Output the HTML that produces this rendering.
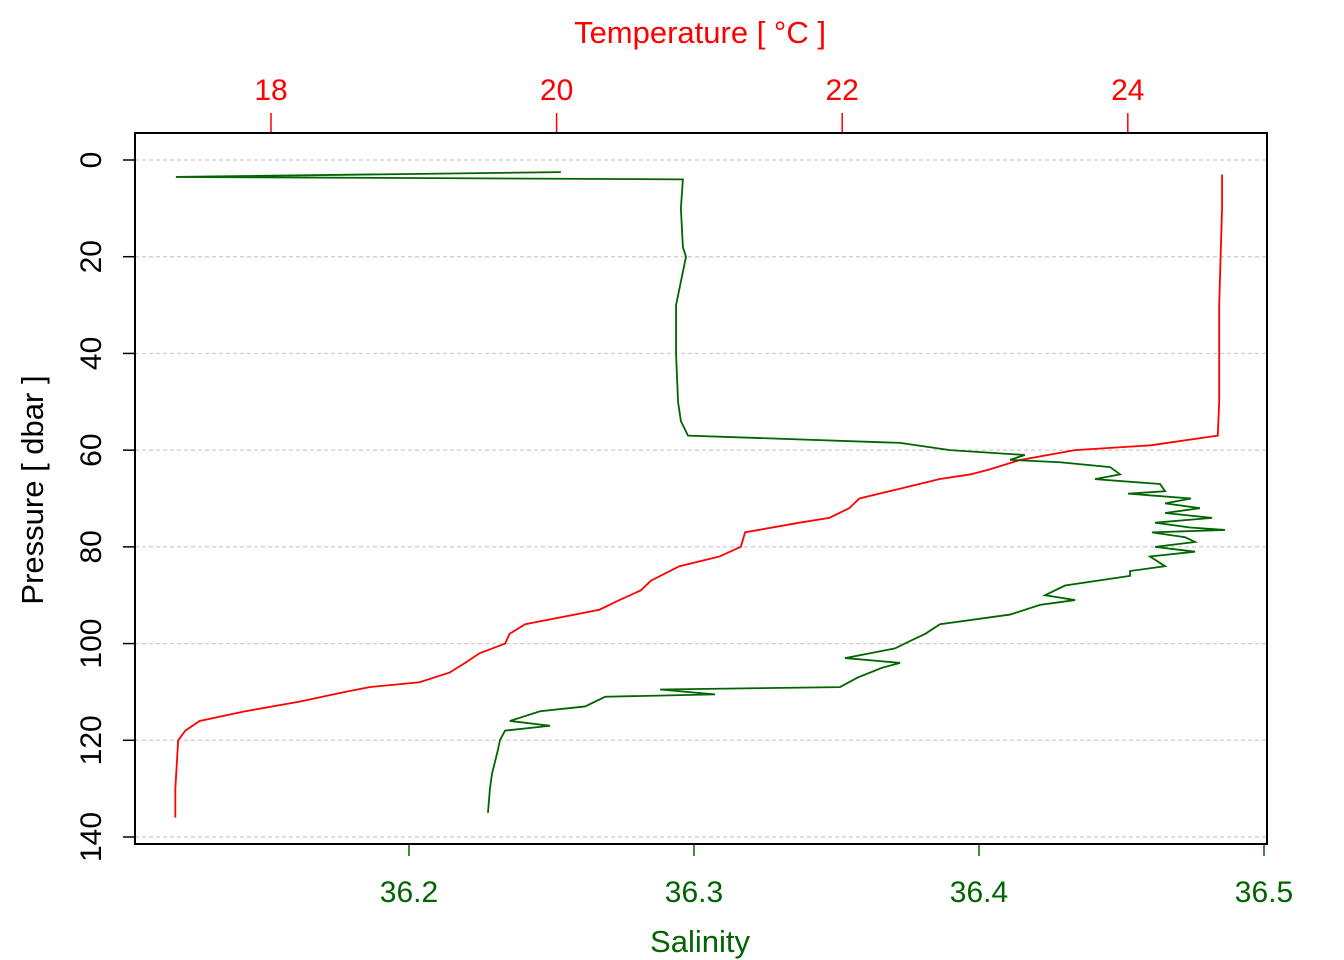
<!DOCTYPE html>
<html><head><meta charset="utf-8"><style>
html,body{margin:0;padding:0;background:#fff;}
svg{display:block;font-family:"Liberation Sans",sans-serif;}
</style></head><body>
<svg id="chart" width="1344" height="960" viewBox="0 0 1344 960">
<rect x="0" y="0" width="1344" height="960" fill="#fff"/>
<g id="grid"></g><g id="series"></g><g id="axes"></g>
</svg>
<script>
const pressureTicks=[0,20,40,60,80,100,120,140];
const salinityTicks=[36.2,36.3,36.4,36.5];
const temperatureTicks=[18,20,22,24];
const tempPressure=[3,10,20,30,40,50,57,59,60,62,64,65,66,68,70,72,74,75,77,80,82,84,87,89,91,93,96,98,100,102,104,106,108,109,110,112,114,116,118,120,125,130,136];
const tempValues=[24.66,24.66,24.65,24.64,24.64,24.64,24.63,24.16,23.63,23.25,23.03,22.9,22.68,22.4,22.12,22.05,21.91,21.7,21.32,21.29,21.14,20.86,20.66,20.59,20.44,20.3,19.78,19.67,19.64,19.46,19.36,19.25,19.04,18.69,18.52,18.2,17.82,17.5,17.4,17.35,17.34,17.33,17.33];
const salPressure=[2.5,3.5,4,10,18,20,26,30,40,50,54,57,57.5,58.5,60,61,62,62.5,63.5,65,66,67,68.5,69,70,71,72,73,74,75,76,76.5,77,78,79,80,81,82,84,85,86,88,90,91,92,94,96,98,99,101,103,104,105,107,109,109.5,110.5,111,113,114,116,117,118,120,122,127,130,135];
const salValues=[36.2533,36.1182,36.2961,36.2954,36.2961,36.2972,36.2951,36.2937,36.2937,36.2944,36.2954,36.2979,36.3232,36.3723,36.3898,36.4161,36.4109,36.4284,36.4460,36.4495,36.4407,36.4635,36.4653,36.4523,36.4744,36.4653,36.4775,36.4653,36.4818,36.4618,36.4740,36.4863,36.4607,36.4723,36.4758,36.4618,36.4758,36.4600,36.4653,36.4530,36.4530,36.4302,36.4232,36.4337,36.4214,36.4109,36.3863,36.3811,36.3775,36.3705,36.3530,36.3723,36.3660,36.3575,36.3512,36.2881,36.3074,36.2688,36.2618,36.2460,36.2354,36.2495,36.2337,36.2319,36.2312,36.2291,36.2284,36.2277];
const L=135,R=1267,T=133,B=844;
const yP=p=>160+p*(837-160)/140;
const xS=s=>409+(s-36.2)*2850;
const xT=t=>271+(t-18)*142.8;
const NS="http://www.w3.org/2000/svg";
function mk(tag,attrs,parent,text){const e=document.createElementNS(NS,tag);for(const k in attrs)e.setAttribute(k,attrs[k]);if(text!==undefined)e.textContent=text;document.getElementById(parent).appendChild(e);return e;}
pressureTicks.forEach(p=>{
 const g=mk('line',{x1:L,x2:R,y1:yP(p),y2:yP(p),stroke:'#ccc','stroke-width':1.2,'stroke-dasharray':'4,3'},'grid');
 
 
 const t=mk('line',{x1:L,x2:L-12,y1:yP(p),y2:yP(p),stroke:'#000','stroke-width':1.5},'axes');
 
 
 const lb=mk('text',{x:0,y:0,transform:`translate(101,${yP(p)}) rotate(-90)`,'text-anchor':'middle','font-size':30,fill:'#000'},'axes',String(p));
 
 
});
salinityTicks.forEach(s=>{
 const t=mk('line',{x1:xS(s),x2:xS(s),y1:B,y2:B+12,stroke:'#006400','stroke-width':1.5},'axes');
 
 
 const lb=mk('text',{x:xS(s),y:902,'text-anchor':'middle','font-size':30,fill:'#006400'},'axes',s.toFixed(1));
 
 
});
temperatureTicks.forEach(tv=>{
 const t=mk('line',{x1:xT(tv),x2:xT(tv),y1:T,y2:T-20,stroke:'#f00','stroke-width':1.5},'axes');
 
 
 const lb=mk('text',{x:xT(tv),y:100,'text-anchor':'middle','font-size':30,fill:'#f00'},'axes',String(tv));
 
 
});
const box=mk('rect',{x:L,y:T,width:R-L,height:B-T,fill:'none',stroke:'#000','stroke-width':2},'axes');


const xt=mk('text',{x:700,y:952,'text-anchor':'middle','font-size':31,fill:'#006400'},'axes','Salinity');


const tt=mk('text',{x:700,y:43,'text-anchor':'middle','font-size':31,fill:'#f00'},'axes','Temperature [ °C ]');


const yt=mk('text',{x:0,y:0,transform:'translate(43,490) rotate(-90)','text-anchor':'middle','font-size':31,fill:'#000'},'axes','Pressure [ dbar ]');


const tp=mk('polyline',{points:tempPressure.map((p,i)=>xT(tempValues[i])+','+yP(p)).join(' '),fill:'none',stroke:'#f00','stroke-width':1.8},'series');


const sp=mk('polyline',{points:salPressure.map((p,i)=>xS(salValues[i])+','+yP(p)).join(' '),fill:'none',stroke:'#006400','stroke-width':1.8},'series');


</script>
</body></html>
